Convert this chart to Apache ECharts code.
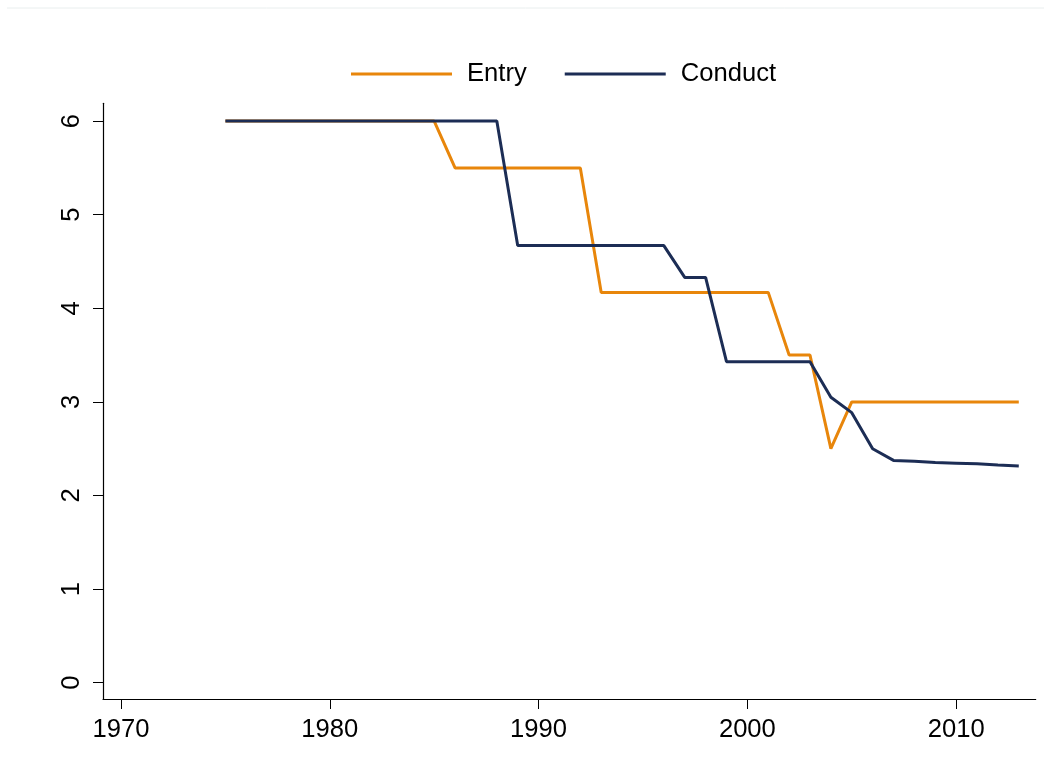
<!DOCTYPE html>
<html>
<head>
<meta charset="utf-8">
<script src="https://cdn.jsdelivr.net/npm/echarts@6/dist/echarts.min.js"></script>
<style>
html,body{margin:0;padding:0;background:#fff;}
#chart{width:1051px;height:772px;}
</style>
</head>
<body>
<div id="chart"></div>
<script>
const years = [1975,1976,1977,1978,1979,1980,1981,1982,1983,1984,1985,1986,1987,1988,1989,1990,1991,1992,1993,1994,1995,1996,1997,1998,1999,2000,2001,2002,2003,2004,2005,2006,2007,2008,2009,2010,2011,2012,2013];
const entry = [6,6,6,6,6,6,6,6,6,6,6,5.5,5.5,5.5,5.5,5.5,5.5,5.5,4.17,4.17,4.17,4.17,4.17,4.17,4.17,4.17,4.17,3.5,3.5,2.5,3,3,3,3,3,3,3,3,3];
const conduct = [6,6,6,6,6,6,6,6,6,6,6,6,6,6,4.67,4.67,4.67,4.67,4.67,4.67,4.67,4.67,4.33,4.33,3.43,3.43,3.43,3.43,3.43,3.05,2.885,2.5,2.375,2.365,2.352,2.345,2.338,2.325,2.315];
const xTicks = [1970,1980,1990,2000,2010];
const yTicks = [0,1,2,3,4,5,6];
const seriesNames = ['Entry','Conduct'];

const font = "'Liberation Sans', Arial, sans-serif";
const chart = echarts.init(document.getElementById('chart'), null, {renderer:'canvas'});
chart.setOption({
  animation:false,
  backgroundColor:'#ffffff',
  graphic:[{type:'line',shape:{x1:7,y1:8,x2:1044,y2:8},style:{stroke:'#e9eeee',lineWidth:1}}],
  legend:{
    left:346, top:56,
    itemWidth:101, itemHeight:3, itemGap:38,
    icon:'rect',
    textStyle:{fontFamily:font,fontSize:25.6,color:'#000',padding:[0,0,0,10]},
    data:seriesNames
  },
  grid:{left:103,right:15.3,top:103.3,bottom:73,containLabel:false},
  xAxis:{
    type:'value', min:1969.138, max:2013.81,
    axisLine:{show:true,onZero:false,lineStyle:{color:'#000',width:1.2}},
    axisTick:{show:true,length:10,inside:false,customValues:xTicks,lineStyle:{color:'#000',width:1}},
    axisLabel:{customValues:xTicks,formatter:v=>String(v),fontFamily:font,fontSize:25.6,color:'#000',margin:18},
    splitLine:{show:false}
  },
  yAxis:{
    type:'value', min:-0.174, max:6.19,
    axisLine:{show:true,onZero:false,lineStyle:{color:'#000',width:1.2}},
    axisTick:{show:true,length:10,customValues:yTicks,lineStyle:{color:'#000',width:1}},
    axisLabel:{customValues:yTicks,formatter:v=>String(v),rotate:90,fontFamily:font,fontSize:25.6,color:'#000',margin:18},
    splitLine:{show:false}
  },
  series:[
    {name:seriesNames[0],type:'line',data:years.map((y,i)=>[y,entry[i]]),showSymbol:false,symbol:'none',
     lineStyle:{color:'#e8860b',width:3},itemStyle:{color:'#e8860b'}},
    {name:seriesNames[1],type:'line',data:years.map((y,i)=>[y,conduct[i]]),showSymbol:false,symbol:'none',
     lineStyle:{color:'#1c2d55',width:3},itemStyle:{color:'#1c2d55'}}
  ]
});
</script>
</body>
</html>
